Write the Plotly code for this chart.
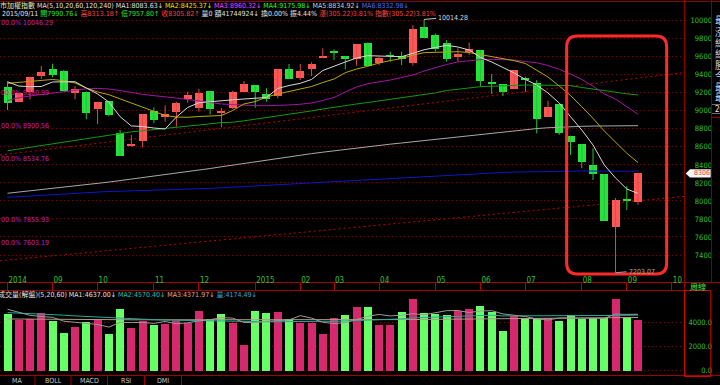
import plotly.graph_objects as go

W, H = 720, 385


def PX(x):
    return x / W


def PY(y):
    return 1 - y / H


# ---------------- data ----------------
weeks = list(range(57))
month_ticks = [0, 4, 8, 13, 17, 22, 26, 29, 33, 38, 42, 46, 51, 55, 59]
month_labels = ["2014", "09", "10", "11", "12", "2015", "02", "03", "04",
                "05", "06", "07", "08", "09", "10"]

opens = [9268, 9102, 9212, 9390, 9467, 9442, 9201, 9212, 9017, 9109,
         8757, 8613, 8668, 8998, 8931, 8990, 9131, 9028, 9223, 8979,
         9028, 9212, 9283, 9187, 9164, 9464, 9361, 9461, 9583, 9660,
         9608, 9575, 9749, 9534, 9612, 9608, 9534, 9933, 9841, 9749,
         9601, 9649, 9675, 9320, 9294, 9239, 9360, 9305, 8935, 9072,
         8724, 8632, 8399, 8299, 7714, 8020, 7990.76]
highs = [9323, 9200, 9380, 9497, 9523, 9453, 9275, 9215, 9101, 9109,
         8787, 8732, 8965, 9039, 9061, 9101, 9212, 9242, 9223, 9035,
         9223, 9331, 9283, 9250, 9461, 9520, 9520, 9538, 9694, 9683,
         9608, 9738, 9760, 9601, 9656, 9656, 9952, 10014.28, 9860, 9786,
         9694, 9756, 9675, 9409, 9294, 9453, 9379, 9342, 9112, 9072,
         8724, 8632, 8584, 8299, 8033, 8166, 8313.18]
lows = [9009, 9095, 9128, 9353, 9372, 9215, 9128, 8906, 8850, 8939,
        8499, 8602, 8595, 8862, 8879, 8824, 9090, 8990, 8961, 8817,
        9020, 9212, 9035, 9101, 9139, 9353, 9342, 9386, 9583, 9564,
        9461, 9501, 9497, 9508, 9545, 9508, 9501, 9811, 9656, 9545,
        9545, 9619, 9268, 9187, 9164, 9239, 9212, 8750, 8935, 8732,
        8510, 8362, 8232, 7781, 7203.07, 7899, 7957.80]
closes = [9083, 9194, 9372, 9427, 9397, 9220, 9239, 8979, 9101, 8957,
          8499, 8635, 8965, 8898, 8965, 9083, 9176, 9194, 9017, 9001,
          9212, 9298, 9212, 9131, 9461, 9353, 9442, 9520, 9608, 9638,
          9572, 9738, 9497, 9586, 9608, 9572, 9905, 9811, 9686, 9572,
          9630, 9689, 9334, 9298, 9212, 9453, 9340, 8906, 9039, 8757,
          8657, 8435, 8299, 7781, 8010, 8000.60, 8305.82]

ma5 = [9323, 9275, 9268, 9270, 9320, 9323, 9323, 9253, 9187, 9098,
       8935, 8832, 8826, 8809, 8798, 8931, 9037, 9090, 9098, 9109,
       9122, 9131, 9137, 9148, 9248, 9281, 9305, 9348, 9447, 9497,
       9542, 9586, 9612, 9608, 9603, 9601, 9638, 9678, 9703, 9727,
       9708, 9675, 9592, 9542, 9481, 9420, 9348, 9287, 9198, 9087,
       8935, 8787, 8621, 8399, 8255, 8132, 8083.63]
ma10 = [9305, 9316, 9328, 9342, 9348, 9334, 9309, 9253, 9209, 9179,
        9131, 9087, 9037, 8987, 8948, 8931, 8928, 8937, 8943, 8948,
        9004, 9076, 9103, 9153, 9187, 9217, 9242, 9270, 9314, 9353,
        9423, 9464, 9494, 9531, 9558, 9580, 9619, 9645, 9649, 9653,
        9656, 9647, 9625, 9597, 9575, 9556, 9525, 9453, 9375, 9275,
        9170, 9046, 8917, 8776, 8654, 8529, 8425.37]
ma20 = [9115, 9145, 9165, 9181, 9198, 9220, 9233, 9244, 9249, 9242,
        9225, 9203, 9183, 9168, 9159, 9142, 9126, 9109, 9098, 9076,
        9069, 9062, 9058, 9057, 9057, 9065, 9073, 9087, 9115, 9148,
        9209, 9264, 9301, 9320, 9342, 9370, 9397, 9442, 9481, 9514,
        9542, 9558, 9568, 9572, 9569, 9564, 9547, 9533, 9503, 9461,
        9409, 9348, 9275, 9187, 9131, 9042, 8960.32]
ma60 = [8557, 8576, 8596, 8615, 8634, 8653, 8673, 8694, 8715, 8736,
        8754, 8767, 8779, 8793, 8804, 8818, 8833, 8847, 8856, 8869,
        8873, 8889, 8906, 8923, 8940, 8958, 8978, 8999, 9020, 9041,
        9058, 9076, 9092, 9109, 9126, 9144, 9162, 9180, 9199, 9225,
        9240, 9254, 9268, 9273, 9279, 9284, 9286, 9286, 9286, 9286,
        9280, 9259, 9240, 9222, 9204, 9189, 9175.98]
ma120 = [8085, 8098, 8111, 8125, 8138, 8152, 8166, 8179, 8192, 8209,
         8226, 8242, 8259, 8276, 8292, 8309, 8326, 8342, 8360, 8379,
         8398, 8417, 8435, 8454, 8473, 8492, 8510, 8525, 8541, 8557,
         8573, 8589, 8603, 8616, 8630, 8643, 8657, 8670, 8683, 8695,
         8707, 8721, 8733, 8748, 8764, 8778, 8792, 8803, 8812, 8819,
         8825, 8828, 8831, 8832, 8833, 8834, 8834.92]
ma240 = [8040, 8048, 8056, 8064, 8070, 8078, 8086, 8093, 8101, 8105,
         8108, 8111, 8115, 8118, 8121, 8125, 8128, 8132, 8139, 8146,
         8152, 8159, 8166, 8172, 8179, 8187, 8194, 8200, 8207, 8214,
         8220, 8227, 8234, 8240, 8247, 8254, 8260, 8267, 8273, 8288,
         8293, 8299, 8304, 8310, 8316, 8320, 8323, 8327, 8329, 8331,
         8332, 8332, 8332, 8330, 8328, 8330, 8332.98]

volumes = [4658, 4165, 4272, 4716, 4107, 3070, 3613, 4025, 4165, 3012,
           5045, 3506, 4107, 3753, 3810, 4107, 3893, 4930, 4222, 4658,
           3893, 2107, 4905, 4716, 4848, 4247, 3893, 3893, 2988, 4354,
           4576, 5209, 5209, 3753, 3753, 4848, 5868, 4716, 4658, 4576,
           4905, 5045, 5341, 4798, 3234, 4518, 4354, 4354, 4354, 4082,
           4576, 4222, 4304, 4304, 5868, 4436, 4174.49]
# 1 = red (up) bar, 0 = green (down) bar, as drawn
vol_up = [0, 1, 1, 1, 0, 0, 1, 0, 1, 0,
          0, 1, 1, 0, 1, 1, 1, 1, 0, 0,
          1, 1, 0, 0, 1, 0, 1, 1, 1, 1,
          0, 1, 0, 1, 1, 0, 1, 0, 0, 0,
          1, 1, 0, 0, 0, 1, 0, 0, 1, 0,
          0, 0, 0, 0, 1, 0, 1]
vol_ma5 = [5050, 4800, 4550, 4450, 4384, 4066, 3956, 3906, 3796, 3577,
           3972, 3951, 3967, 3885, 4044, 3857, 3934, 4099, 4192, 4362,
           4319, 3962, 3957, 4056, 4094, 4165, 4522, 4319, 3974, 3875,
           3941, 4204, 4467, 4620, 4500, 4554, 4686, 4588, 4769, 4933,
           4945, 4780, 4905, 4933, 4665, 4587, 4449, 4252, 4163, 4332,
           4344, 4318, 4308, 4298, 4655, 4627, 4637.00]
vol_ma20 = [4770, 4740, 4700, 4660, 4610, 4560, 4500, 4450, 4400, 4340,
            4300, 4260, 4220, 4190, 4160, 4140, 4120, 4110, 4100, 4090,
            4070, 4020, 4020, 4020, 4020, 4040, 4080, 4090, 4060, 4050,
            4080, 4120, 4170, 4200, 4210, 4260, 4340, 4370, 4400, 4430,
            4460, 4490, 4540, 4560, 4500, 4500, 4490, 4500, 4520, 4530,
            4530, 4520, 4500, 4480, 4540, 4550, 4570.40]
vol_ma60 = [4250, 4250, 4240, 4240, 4230, 4220, 4210, 4200, 4200, 4190,
            4190, 4180, 4180, 4170, 4170, 4160, 4160, 4160, 4160, 4160,
            4150, 4140, 4140, 4140, 4140, 4140, 4150, 4150, 4140, 4140,
            4150, 4160, 4170, 4170, 4170, 4180, 4200, 4210, 4220, 4230,
            4240, 4260, 4270, 4290, 4290, 4300, 4310, 4310, 4320, 4320,
            4330, 4330, 4340, 4340, 4360, 4365, 4371.97]

price_ticks = list(range(7400, 10001, 200))
vol_ticks = [0, 2000, 4000]
vol_tick_labels = ["0.0", "2000.0", "4000.0"]
level_values = [10046.29, 9260.99, 8900.56, 8534.76, 7855.93, 7603.19]
trend_upper = [8509, 9425]
trend_lower = [7336, 8050]
x_ends = [-0.666, 60.08]
high_label = 10014.28
low_label = 7203.07

# ---------------- styling ----------------
FN = "DejaVu Sans Condensed, Liberation Sans Narrow, DejaVu Sans, Noto Sans CJK TC"
UP = "#ff5656"
DN = "#26e23c"
UP_W = "#e04a4a"
DN_W = "#22c434"
VUP = "#d6286c"
VDN = "#66ff66"
GRID = "#7a0000"
DOT = "1px,3px"
FRAME = "#8a0000"
AXG = "#2ec22e"

fig = go.Figure()

# wicks
for flag, col in ((True, UP_W), (False, DN_W)):
    wx, wy = [], []
    for i in weeks:
        if (closes[i] > opens[i]) == flag:
            wx += [i, i, None]
            wy += [lows[i], highs[i], None]
    fig.add_trace(go.Scatter(x=wx, y=wy, mode="lines", line=dict(color=col, width=1),
                             hoverinfo="skip", showlegend=False, xaxis="x", yaxis="y"))

# bodies
body_base = [min(o, c) for o, c in zip(opens, closes)]
body_h = [max(abs(c - o), 10) for o, c in zip(opens, closes)]
body_col = [UP if c > o else DN for o, c in zip(opens, closes)]
fig.add_trace(go.Bar(x=weeks, y=body_h, base=body_base, width=0.71,
                     marker=dict(color=body_col, line=dict(width=0)),
                     showlegend=False, xaxis="x", yaxis="y"))

# moving averages
for series, col in ((ma240, "#1414c8"), (ma120, "#a8a8a8"), (ma60, "#129a12"),
                    (ma20, "#a414a4"), (ma10, "#b8aa00"), (ma5, "#d8d8d8")):
    fig.add_trace(go.Scatter(x=weeks, y=series, mode="lines",
                             line=dict(color=col, width=1), hoverinfo="skip",
                             showlegend=False, xaxis="x", yaxis="y"))

# volume
fig.add_trace(go.Bar(x=weeks, y=volumes, width=0.71,
                     marker=dict(color=[VUP if u else VDN for u in vol_up], line=dict(width=0)),
                     showlegend=False, xaxis="x2", yaxis="y2"))
for series, col in ((vol_ma60, "#b89888"), (vol_ma20, "#1fae9a"), (vol_ma5, "#9a9a9a")):
    fig.add_trace(go.Scatter(x=weeks, y=series, mode="lines",
                             line=dict(color=col, width=1), hoverinfo="skip",
                             showlegend=False, xaxis="x2", yaxis="y2"))

shapes = []
# trend lines
for tl in (trend_upper, trend_lower):
    shapes.append(dict(type="line", xref="x", yref="y", x0=x_ends[0], x1=x_ends[1],
                       y0=tl[0], y1=tl[1], line=dict(color="#c00000", width=1, dash="2px,3px"),
                       layer="below"))

# highlight rounded rectangle
x0, x1, y0, y1 = 49.66, 58.54, 7189, 9830
rx, ry = 0.95, 120
path = (f"M {x0+rx},{y1} L {x1-rx},{y1} Q {x1},{y1} {x1},{y1-ry} "
        f"L {x1},{y0+ry} Q {x1},{y0} {x1-rx},{y0} L {x0+rx},{y0} "
        f"Q {x0},{y0} {x0},{y0+ry} L {x0},{y1-ry} Q {x0},{y1} {x0+rx},{y1} Z")
shapes.append(dict(type="path", xref="x", yref="y", path=path,
                   line=dict(color="#ff2a2a", width=3)))


def hline(y, xa, xb, col=FRAME, w=1):
    shapes.append(dict(type="line", xref="paper", yref="paper", x0=PX(xa), x1=PX(xb),
                       y0=PY(y), y1=PY(y), line=dict(color=col, width=w)))


def vline(x, ya, yb, col=FRAME, w=1):
    shapes.append(dict(type="line", xref="paper", yref="paper", x0=PX(x), x1=PX(x),
                       y0=PY(ya), y1=PY(yb), line=dict(color=col, width=w)))


hline(1.5, 0, 720)
hline(290.5, 0, 684.5, "#a00000")
hline(375.5, 0, 720, "#a00000")
vline(684.5, 0, 376, "#900000")
vline(711.5, 0, 283, "#800000")
hline(282.5, 684.5, 720, "#a00000")
# box around volume axis
shapes.append(dict(type="rect", xref="paper", yref="paper", x0=PX(684.5), x1=PX(710.8),
                   y0=PY(376.5), y1=PY(290.5), line=dict(color="#d80000", width=1)))
# bottom tab separators
for xs in (35, 71, 107.5, 144.5, 181.5):
    vline(xs, 376, 385, "#a00000")
# right side panel fragments
hline(104.5, 712, 720, "#707070")
hline(113.5, 712, 720, "#707070")
hline(117.5, 712, 720, "#900000")

# current price tag
c_last = closes[-1]
hh = 46
tag = (f"M {PX(685.7)},{c_last} L {PX(690)},{c_last+hh} L {PX(710.7)},{c_last+hh} "
       f"L {PX(710.7)},{c_last-hh} L {PX(690)},{c_last-hh} Z")
shapes.append(dict(type="path", xref="paper", yref="y", path=tag,
                   fillcolor="#f4f4f4", line=dict(width=0)))

ann = []


def txt(x, y, s, col="#e0e0e0", size=7, xanchor="left", xref="paper", yref="paper", yanchor="middle"):
    ann.append(dict(x=x, y=y, xref=xref, yref=yref, text=s, showarrow=False,
                    xanchor=xanchor, yanchor=yanchor,
                    font=dict(family=FN, size=size, color=col)))


def sp(s, col):
    return f"<span style='color:{col}'>{s}</span>"


row1 = " ".join([
    sp("市加權指數", "#e8e8b8"),
    sp("MA(5,10,20,60,120,240)", "#e0e0e0"),
    sp(f"MA1:{ma5[-1]:.2f}↓", "#e0e0e0"),
    sp(f"MA2:{ma10[-1]:.2f}↓", "#e8e800"),
    sp(f"MA3:{ma20[-1]:.2f}↓", "#ff40ff"),
    sp(f"MA4:{ma60[-1]:.2f}↓", "#22ff22"),
    sp(f"MA5:{ma120[-1]:.2f}↓", "#d0d0d0"),
    sp(f"MA6:{ma240[-1]:.2f}↓", "#4a6cff"),
])
txt(PX(-2), PY(5), row1)

chg = closes[-1] - closes[-2]
pct = chg / closes[-2] * 100
amp = (highs[-1] - lows[-1]) / closes[-2] * 100
row2 = " ".join([
    sp("2015/09/11", "#e0e0e0"),
    sp(f"開{opens[-1]:.2f}↓", "#30e030"),
    sp(f"高{highs[-1]:.2f}↑", "#ff4040"),
    sp(f"低{lows[-1]:.2f}↑", "#30e030"),
    sp(f"收{closes[-1]:.2f}↑", "#ff4040"),
    sp("量0", "#e0e0e0"),
    sp("額41744924↓", "#e0e0e0"),
    sp("換0.00%", "#e0e0e0"),
    sp(f"振{amp:.2f}%", "#e0e0e0"),
    sp(f"漲({chg:.2f}){pct:.2f}%", "#ff4040"),
    sp(f"指數({chg:.2f}){pct:.2f}%", "#ff4040"),
])
txt(0, PY(13.5), row2)

# level labels (magenta)
for lv in level_values:
    ann.append(dict(x=PX(-1), y=lv, xref="paper", yref="y", text=f"00.0% {lv:.2f}",
                    showarrow=False, xanchor="left", yanchor="top",
                    font=dict(family=FN, size=7, color="#c020c0")))

# extremes
ann.append(dict(x=37, y=high_label, xref="x", yref="y", text=f"{high_label:.2f}",
                showarrow=True, arrowhead=0, arrowwidth=1, arrowcolor="#c8c8c8",
                ax=12, ay=-1, xanchor="left", yanchor="middle",
                font=dict(family=FN, size=7, color="#d8d8d8")))
ann.append(dict(x=54, y=low_label, xref="x", yref="y", text=f"{low_label:.2f}",
                showarrow=True, arrowhead=0, arrowwidth=1, arrowcolor="#a0a0a0",
                ax=11, ay=-1, xanchor="left", yanchor="middle",
                font=dict(family=FN, size=7, color="#a8a8a8")))

# price tag text
ann.append(dict(x=PX(702), y=c_last, xref="paper", yref="y", text=f"{c_last:.0f}",
                showarrow=False, xanchor="center", yanchor="middle",
                font=dict(family=FN, size=7, color="#ff3030")))

# volume header
vrow = " ".join([
    sp("成交量(解盤)(5,20,60)", "#e0e0e0"),
    sp(f"MA1:{vol_ma5[-1]:.2f}↓", "#e0e0e0"),
    sp(f"MA2:{vol_ma20[-1]:.2f}↓", "#20c0a8"),
    sp(f"MA3:{vol_ma60[-1]:.2f}↓", "#e0a890"),
    sp(f"量:{volumes[-1]:.2f}↓", "#30a8e8"),
])
txt(PX(-4), PY(294.5), vrow)

# period label
txt(PX(688), PY(286.5), "周線", "#40e040", size=8)

# bottom tabs
for xc, s in ((17, "MA"), (53, "BOLL"), (89, "MACD"), (126, "RSI"), (163, "DMI")):
    txt(PX(xc), PY(380.5), s, "#c8c8c8", size=7, xanchor="center")

# right side panel fragments
for yc, ch in zip((20, 32, 43, 54, 65, 76, 88, 98), "最漲總總勝今最最"):
    txt(PX(713), PY(yc), ch, "#c8d4e8", size=10)
txt(PX(713), PY(109), "20", "#e8e8e8", size=8)

fig.update_layout(
    width=W, height=H, margin=dict(l=0, r=0, t=0, b=0),
    paper_bgcolor="#000000", plot_bgcolor="#000000",
    showlegend=False, bargap=0, barmode="overlay",
    shapes=shapes, annotations=ann,
    xaxis=dict(domain=[0, PX(684)], range=x_ends, anchor="y",
               tickmode="array", tickvals=month_ticks, ticktext=month_labels,
               ticks="outside", ticklen=8, tickcolor="#b00000", tickwidth=1,
               ticklabelposition="outside right", ticklabelstandoff=-10,
               tickfont=dict(family=FN, size=8, color=AXG),
               showgrid=False, zeroline=False, showline=True, linecolor="#a00000",
               rangeslider=dict(visible=False), fixedrange=True),
    yaxis=dict(domain=[PY(282), 1], range=[7100.5, 10229.7], anchor="free",
               position=PX(712), side="left",
               tickmode="array", tickvals=price_ticks, ticktext=[str(v) for v in price_ticks],
               ticks="", tickfont=dict(family=FN, size=7.5, color=AXG),
               showgrid=True, gridcolor=GRID, griddash=DOT, gridwidth=1,
               zeroline=False, showline=False),
    xaxis2=dict(domain=[0, PX(684)], range=x_ends, anchor="y2", visible=False),
    yaxis2=dict(domain=[PY(375), PY(291)], range=[-362, 6551], anchor="free",
                position=PX(712), side="left",
                tickmode="array", tickvals=vol_ticks, ticktext=vol_tick_labels,
                ticks="", tickfont=dict(family=FN, size=7.5, color=AXG),
                showgrid=True, gridcolor=GRID, griddash=DOT, gridwidth=1,
                zeroline=False, showline=False),
)

fig.write_html("out.html", config={"displayModeBar": False, "staticPlot": True},
               post_script="document.body.style.margin='0px';document.body.style.overflow='hidden';")
